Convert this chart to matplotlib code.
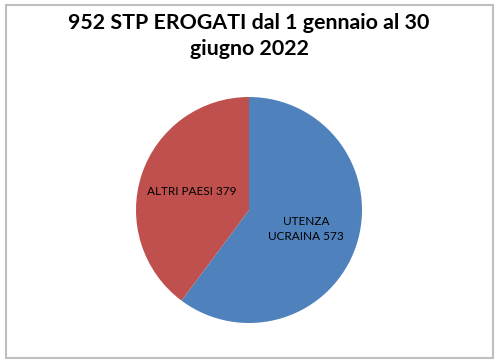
import matplotlib.pyplot as plt
from matplotlib.patches import Rectangle

categories = ['UTENZA\nUCRAINA', 'ALTRI PAESI']
values = [573, 379]
colors = ['#4F81BD', '#C0504D']
title = '952 STP EROGATI dal 1 gennaio al 30\ngiugno 2022'

plt.rcParams['font.family'] = ['Lato', 'DejaVu Sans']

fig = plt.figure(figsize=(4.98, 3.63), dpi=100)
ax = fig.add_axes([136 / 498, 40 / 363, 226 / 498, 226 / 363])

labels = [f'{c} {v}' for c, v in zip(categories, values)]
wedges, texts = ax.pie(values, labels=labels, colors=colors, startangle=90,
                       counterclock=False, labeldistance=0.53,
                       textprops={'fontsize': 8.5, 'color': '#000000'},
                       wedgeprops={'linewidth': 0})
for t in texts:
    t.set_ha('center')
    t.set_va('center')
    t.set_multialignment('center')
    t.set_linespacing(1.45)
ax.set_xlim(-1, 1)
ax.set_ylim(-1, 1)
ax.set_aspect('equal')

fig.text(0.5, 1 - 36 / 363, title, ha='center', va='center', fontsize=15.4,
         fontweight='bold', linespacing=1.4)

fig.patches.append(Rectangle((6 / 498, 5 / 363), 487 / 498, 353 / 363,
                             transform=fig.transFigure, fill=False,
                             edgecolor='#BFBFBF', linewidth=1.5))

fig.savefig('out.png', dpi=100)
